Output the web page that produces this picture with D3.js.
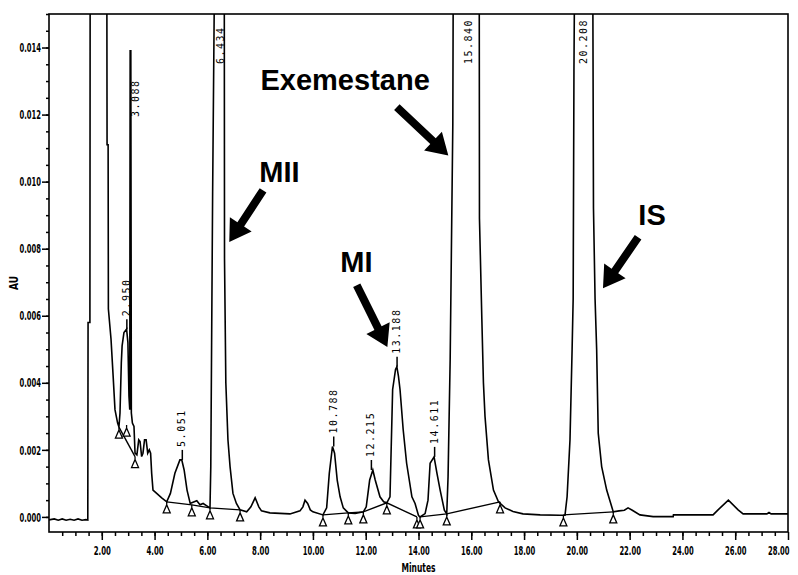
<!DOCTYPE html>
<html>
<head>
<meta charset="utf-8">
<script src="https://cdn.jsdelivr.net/npm/d3@7"></script>
<style>
  body { margin: 0; background: #fff; }
  svg { display: block; }
  .tick text { font-family: "DejaVu Sans Condensed", "DejaVu Sans", sans-serif; font-weight: bold; font-size: 13px; fill: #000; }
  .axis-title { font-family: "DejaVu Sans Condensed", "DejaVu Sans", sans-serif; font-weight: bold; font-size: 12px; fill: #000; }
  .peak-label { font-family: "DejaVu Sans Mono", monospace; font-size: 10px; letter-spacing: 1.5px; fill: #000; }
  .note { font-family: "Liberation Sans", Arial, sans-serif; font-weight: bold; font-size: 29px; fill: #000; }
</style>
</head>
<body>
<div class="chromatogram"></div>
<script>
"use strict";

// trace: [minutes, AU]
const trace = [
  [0, -0.00009], [0.2, -0.00006], [0.35, -0.0001], [0.5, -0.00006], [0.65, -0.0001], [0.8, -0.00007],
  [0.95, -0.0001], [1.1, -0.00006], [1.25, -0.0001], [1.4, -0.00008], [1.47, -0.00009],
  [1.48, 0.0058], [1.55, 0.0058], [1.56, 0.017], [2.19, 0.017], [2.2, 0.0111], [2.24, 0.0111],
  [2.25, 0.0062], [2.35, 0.0053], [2.43, 0.0042], [2.5, 0.0032], [2.6, 0.0028], [2.65, 0.00268],
  [2.69, 0.0031], [2.74, 0.0046], [2.77, 0.0051], [2.84, 0.0055], [2.94, 0.0056], [2.99, 0.0052],
  [3.03, 0.0036], [3.06, 0.0032], [3.075, 0.0139], [3.1, 0.0139], [3.12, 0.0031], [3.16, 0.0028],
  [3.22, 0.0027], [3.26, 0.0019], [3.33, 0.00185], [3.4, 0.0023], [3.45, 0.00225], [3.51, 0.0018],
  [3.56, 0.0019], [3.62, 0.0023], [3.68, 0.0023], [3.74, 0.0019], [3.8, 0.002], [3.85, 0.0019],
  [3.89, 0.0013], [3.94, 0.0008], [4.08, 0.0007], [4.27, 0.00057], [4.46, 0.00045],
  [4.6, 0.0007], [4.77, 0.0013], [4.96, 0.0017], [5.03, 0.0017], [5.12, 0.0014], [5.23, 0.0008],
  [5.35, 0.0004], [5.41, 0.00042], [5.6, 0.00048], [5.72, 0.00036], [5.84, 0.0004], [5.98, 0.00033],
  [6.1, 0.00027], [6.13, 0.0015], [6.2, 0.0097], [6.28, 0.017], [6.64, 0.017], [6.65, 0.0077],
  [6.7, 0.004], [6.78, 0.0023], [6.86, 0.0015], [6.97, 0.0007], [7.1, 0.0004], [7.24, 0.00021],
  [7.49, 0.00015], [7.65, 0.0003], [7.81, 0.00057], [7.95, 0.0003], [8.05, 0.00018], [8.37, 0.00012],
  [9.13, 0.00009], [9.51, 0.00018], [9.62, 0.0003], [9.7, 0.0005], [9.8, 0.0004], [9.9, 0.00021],
  [10.0, 0.00015], [10.38, 0.00006], [10.52, 0.00027], [10.62, 0.0013], [10.74, 0.0021], [10.82, 0.0019],
  [10.92, 0.0011], [11.03, 0.0006], [11.15, 0.00027], [11.34, 0.00012], [11.6, 0.0001], [11.91, 0.00015],
  [12.02, 0.0003], [12.15, 0.0011], [12.27, 0.0014], [12.36, 0.0011], [12.54, 0.0006], [12.68, 0.00045],
  [12.8, 0.00042], [12.92, 0.0006], [13.02, 0.0038], [13.13, 0.0044], [13.18, 0.00448], [13.24, 0.0042],
  [13.3, 0.0038], [13.42, 0.0026], [13.55, 0.0016], [13.75, 0.0006], [13.87, 0.0004], [14.0, 0.00004],
  [14.06, 0.0], [14.25, 0.0001], [14.36, 0.0005], [14.44, 0.0016], [14.59, 0.00179], [14.7, 0.0013],
  [14.82, 0.0008], [14.98, 0.0002], [15.07, 0.00009], [15.12, 0.0012], [15.2, 0.0047], [15.3, 0.0117],
  [15.32, 0.017], [16.3, 0.017], [16.31, 0.0089], [16.4, 0.0059], [16.46, 0.004], [16.52, 0.003],
  [16.65, 0.0017], [16.84, 0.0008], [17.03, 0.00045], [17.28, 0.00027], [17.58, 0.00016], [17.96, 0.00009],
  [18.61, 0.00006], [19.36, 0.00005], [19.55, 0.00005], [19.63, 0.0006], [19.74, 0.0023], [19.82, 0.005],
  [19.86, 0.0065], [19.89, 0.0133], [19.92, 0.017], [20.6, 0.017], [20.63, 0.0092], [20.69, 0.0065],
  [20.75, 0.005], [20.81, 0.0025], [20.94, 0.0015], [21.13, 0.0008], [21.38, 0.00015], [21.6, 0.00018],
  [21.8, 0.0002], [21.94, 0.00027], [22.1, 0.0002], [22.39, 0.00006], [22.89, 0.00001], [23.65, 0.00001],
  [23.66, 0.00006], [25.16, 0.00006], [25.35, 0.00021], [25.74, 0.0005], [26.11, 0.00021], [26.3, 0.00009],
  [27.2, 0.00009], [27.28, 0.00013], [27.36, 0.00009], [28.0, 0.00009]
];

// peak retention times, labels and apex heights (AU); null = off scale
const peakTimes = [2.95, 3.088, 5.051, 6.434, 10.788, 12.215, 13.188, 14.611, 15.84, 20.208];
const peakLabels = ["2.950", "3.088", "5.051", "6.434", "10.788", "12.215", "13.188", "14.611", "15.840", "20.208"];
const peakApex = [0.0056, 0.0139, 0.0017, null, 0.0021, 0.0014, 0.00448, 0.00179, null, null];

// integration start/end markers [minutes, AU]
const markers = [
  [2.65, 0.00268], [2.94, 0.00274], [3.26, 0.0018], [4.46, 0.00045], [5.41, 0.00036], [6.1, 0.00027],
  [7.24, 0.00021], [10.38, 0.00006], [11.34, 0.00012], [11.91, 0.00015], [12.8, 0.00042], [13.94, 0.0],
  [14.06, 0.0], [15.07, 0.00009], [17.09, 0.00045], [19.49, 0.00006], [21.38, 0.00015]
];

// drawn integration baselines
const baselines = [
  [[2.65, 0.00268], [3.26, 0.0018]],
  [[4.46, 0.00045], [5.41, 0.00036], [6.1, 0.00027], [7.24, 0.00021]],
  [[10.38, 0.00006], [11.34, 0.00012], [11.91, 0.00015], [12.8, 0.00042], [13.94, 0.0]],
  [[14.06, 0.0], [15.07, 0.00009], [17.09, 0.00045]],
  [[19.49, 0.00006], [21.38, 0.00015]]
];

// named compounds: text, text position, arrow tail, arrow tip
const compoundNames = ["Exemestane", "MII", "MI", "IS"];
const compoundText = [[11.22, 0.01272], [8.73, 0.00998], [11.65, 0.0073], [22.85, 0.0087]];
const arrowTail = [[13.18, 0.01222], [8.11, 0.00974], [11.66, 0.00691], [22.32, 0.00834]];
const arrowTip = [[15.13, 0.01078], [6.83, 0.0082], [12.82, 0.00507], [20.99, 0.00682]];

const yMajor = [0, 0.002, 0.004, 0.006, 0.008, 0.010, 0.012, 0.014];
const xMajor = [2, 4, 6, 8, 10, 12, 14, 16, 18, 20, 22, 24, 26, 28];

const width = 798;
const height = 575;
const m = { left: 49, right: 788, top: 14, bottom: 532 };

const svg = d3
  .select(".chromatogram")
  .append("svg")
  .attr("width", width)
  .attr("height", height);

const x = d3.scaleLinear().domain([0, 28]).range([m.left, m.right]);
const y = d3.scaleLinear().domain([-0.00045, 0.015]).range([m.bottom, m.top]);

svg.append("clipPath").attr("id", "plot")
  .append("rect")
  .attr("x", m.left).attr("y", m.top)
  .attr("width", m.right - m.left).attr("height", m.bottom - m.top);

// minor ticks
svg.append("g")
  .attr("transform", `translate(${m.left},0)`)
  .call(d3.axisLeft(y).tickValues(d3.range(0, 0.01501, 0.0005)).tickSize(3).tickFormat(""))
  .call((g) => g.select(".domain").remove());
svg.append("g")
  .attr("transform", `translate(0,${m.bottom})`)
  .call(d3.axisBottom(x).tickValues(d3.range(0.5, 28, 0.5)).tickSize(4).tickFormat(""))
  .call((g) => g.select(".domain").remove());

// the instrument font is very narrow, so squeeze the labels horizontally
const squeeze = (sel) => sel.each(function () {
  const t = d3.select(this);
  const f = (this.textContent.length * 4.3) / this.getComputedTextLength();
  const x0 = +t.attr("x") || 0;
  t.attr("x", x0 / f).attr("transform", `scale(${f},1)`);
});

svg.append("g")
  .attr("transform", `translate(${m.left},0)`)
  .call(d3.axisLeft(y).tickValues(yMajor).tickSize(7).tickPadding(1).tickFormat(d3.format(".3f")))
  .call((g) => g.select(".domain").remove())
  .call((g) => g.selectAll(".tick text").call(squeeze));

svg.append("g")
  .attr("transform", `translate(0,${m.bottom})`)
  .call(d3.axisBottom(x).tickValues(xMajor).tickSize(8).tickPadding(6).tickFormat(d3.format(".2f")))
  .call((g) => g.select(".domain").remove())
  .call((g) => g.selectAll(".tick text").filter((d) => d === 28)
    .attr("text-anchor", "end").attr("x", 1))
  .call((g) => g.selectAll(".tick text").call(squeeze));

svg.selectAll(".tick line").attr("stroke", "#000").attr("stroke-width", 1.5);

// frame
svg.append("rect")
  .attr("x", m.left).attr("y", m.top)
  .attr("width", m.right - m.left).attr("height", m.bottom - m.top)
  .attr("fill", "none").attr("stroke", "#000").attr("stroke-width", 1.6);

svg.append("text")
  .attr("class", "axis-title")
  .attr("transform", `translate(18,283) rotate(-90)`)
  .attr("text-anchor", "middle")
  .attr("textLength", 14)
  .attr("lengthAdjust", "spacingAndGlyphs")
  .text("AU");

svg.append("text")
  .attr("class", "axis-title")
  .attr("x", x(14))
  .attr("y", 572)
  .attr("text-anchor", "middle")
  .attr("textLength", 34)
  .attr("lengthAdjust", "spacingAndGlyphs")
  .text("Minutes");

const plot = svg.append("g").attr("clip-path", "url(#plot)");

const line = d3.line().x((d) => x(d[0])).y((d) => y(d[1]));

plot.selectAll(".baseline")
  .data(baselines)
  .enter()
  .append("path")
  .attr("class", "baseline")
  .attr("d", line)
  .attr("fill", "none")
  .attr("stroke", "#000")
  .attr("stroke-width", 1.4);

plot.append("path")
  .datum(trace)
  .attr("d", line)
  .attr("fill", "none")
  .attr("stroke", "#000")
  .attr("stroke-width", 1.6)
  .attr("stroke-linejoin", "miter");

// integration markers: small open triangles hanging under the trace
plot.selectAll(".marker")
  .data(markers)
  .enter()
  .append("path")
  .attr("class", "marker")
  .attr("d", (d) => {
    const px = x(d[0]), py = y(d[1]);
    return `M${px},${py}V${py + 3}L${px - 3.5},${py + 11}H${px + 3.5}L${px},${py + 3}`;
  })
  .attr("fill", "#fff")
  .attr("stroke", "#000")
  .attr("stroke-width", 1.3);

// peak labels with their drop lines
const peaks = peakTimes.map((t, i) => ({ t, label: peakLabels[i], apex: peakApex[i] }));

const labelPos = (d) => {
  if (d.apex === null) return { cx: x(d.t) + 2, by: 64 };
  if (d.apex > 0.012) return { cx: x(d.t) + 5, by: 117 };
  return { cx: x(d.t), by: y(d.apex) - 13 };
};

svg.selectAll(".drop")
  .data(peaks.filter((d) => d.apex !== null && d.apex < 0.012))
  .enter()
  .append("line")
  .attr("x1", (d) => x(d.t)).attr("x2", (d) => x(d.t))
  .attr("y1", (d) => y(d.apex)).attr("y2", (d) => y(d.apex) - 10)
  .attr("stroke", "#000").attr("stroke-width", 1.5);

svg.selectAll(".peak-label")
  .data(peaks)
  .enter()
  .append("text")
  .attr("class", "peak-label")
  .attr("transform", (d) => {
    const p = labelPos(d);
    return `translate(${p.cx},${p.by}) rotate(-90)`;
  })
  .attr("dominant-baseline", "middle")
  .text((d) => d.label);

// compound names and block arrows
const arrowPath = (a, b) => {
  const x0 = x(a[0]), y0 = y(a[1]), x1 = x(b[0]), y1 = y(b[1]);
  const len = Math.hypot(x1 - x0, y1 - y0);
  const ux = (x1 - x0) / len, uy = (y1 - y0) / len;
  const nx = -uy, ny = ux;
  const sw = 4, hw = 13, hl = 21;
  const bx = x1 - ux * hl, by = y1 - uy * hl;
  const pts = [
    [x0 + nx * sw, y0 + ny * sw], [bx + nx * sw, by + ny * sw], [bx + nx * hw, by + ny * hw],
    [x1, y1], [bx - nx * hw, by - ny * hw], [bx - nx * sw, by - ny * sw], [x0 - nx * sw, y0 - ny * sw]
  ];
  return "M" + pts.map((p) => p.join(",")).join("L") + "Z";
};

svg.selectAll(".arrow")
  .data(compoundNames)
  .enter()
  .append("path")
  .attr("class", "arrow")
  .attr("d", (d, i) => arrowPath(arrowTail[i], arrowTip[i]))
  .attr("fill", "#000");

svg.selectAll(".note")
  .data(compoundNames)
  .enter()
  .append("text")
  .attr("class", "note")
  .attr("x", (d, i) => x(compoundText[i][0]))
  .attr("y", (d, i) => y(compoundText[i][1]))
  .attr("text-anchor", "middle")
  .text((d) => d);
</script>
</body>
</html>
